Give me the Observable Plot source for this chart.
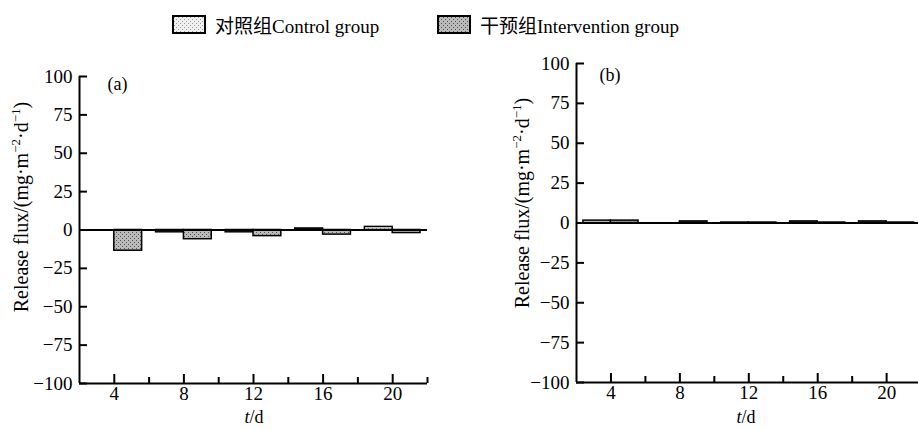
<!DOCTYPE html>
<html><head><meta charset="utf-8">
<script src="https://cdn.jsdelivr.net/npm/d3@7"></script>
<script src="https://cdn.jsdelivr.net/npm/@observablehq/plot@0.6"></script>
<style>
body{margin:0;background:#fff;}
#wrap{position:relative;width:918px;height:429px;overflow:hidden;font-family:"Liberation Serif","Noto Sans CJK SC",serif;color:#000;background:#fff;}
.panel{position:absolute;top:0;}
.leg{position:absolute;top:14px;height:20px;display:flex;align-items:center;font-size:19px;white-space:nowrap;}
.leg svg{margin-right:9px;}
.ytitle{position:absolute;font-size:20px;white-space:nowrap;transform:translate(-50%,-50%) rotate(-90deg);}
.ytitle sup{font-size:13px;vertical-align:8px;line-height:0;}
.xtitle{position:absolute;font-size:18px;white-space:nowrap;transform:translate(-50%,-50%);}
</style></head>
<body>
<svg width="0" height="0" style="position:absolute">
  <defs>
    <pattern id="pc" width="4" height="4" patternUnits="userSpaceOnUse">
      <rect width="4" height="4" fill="#f0f0f0"/>
      <rect x="0" y="0" width="1" height="1" fill="#9a9a9a"/>
      <rect x="2" y="2" width="1" height="1" fill="#9a9a9a"/>
    </pattern>
    <pattern id="pi" width="4" height="4" patternUnits="userSpaceOnUse">
      <rect width="4" height="4" fill="#bababa"/>
      <rect x="0" y="0" width="1" height="1" fill="#555"/>
      <rect x="2" y="2" width="1" height="1" fill="#555"/>
    </pattern>
  </defs>
</svg>
<div id="wrap"></div>
<script>
// ---- data ----
const days = [4, 8, 12, 16, 20];
const minorDays = [6, 10, 14, 18, 22];
const yTicks = [-100, -75, -50, -25, 0, 25, 50, 75, 100];
const groups = ["对照组Control group", "干预组Intervention group"];
const controlA = [0, -1.5, -1.5, 1, 2];
const interventionA = [-13.5, -6, -4, -3, -2];
const controlB = [1.5, 0, 0.3, 1, 1];
const interventionB = [1.5, 1, 0.3, 0.3, 0.3];
const panelLabels = ["(a)", "(b)"];
const yTitleParts = ["Release flux/(mg·m", "−2", "·d", "−1", ")"];
const xTitle = ["t", "/d"];

const wrap = document.getElementById("wrap");
const FONT = '"Liberation Serif","Noto Sans CJK SC",serif';
const fills = ["url(#pc)", "url(#pi)"];
const TICK = "#000";

function panel(cfg) {
  const ctrl = days.map((d, i) => ({day: d, v: cfg.ctrl[i]}));
  const intv = days.map((d, i) => ({day: d, v: cfg.intv[i]}));
  const bw = 1.6;
  const p = Plot.plot({
    width: cfg.width, height: 429,
    marginLeft: cfg.mL, marginRight: cfg.mR, marginTop: cfg.mT, marginBottom: cfg.mB,
    style: {fontFamily: FONT, fontSize: "19px", color: "#000", background: "transparent"},
    x: {domain: [2, cfg.xMax], axis: null},
    y: {domain: [-100, 100], axis: null},
    marks: [
      Plot.rectY(ctrl, {x1: d => d.day - bw, x2: d => d.day, y1: 0, y2: "v", fill: fills[0], stroke: "#000", strokeWidth: 1.5}),
      Plot.rectY(intv, {x1: d => d.day, x2: d => d.day + bw, y1: 0, y2: "v", fill: fills[1], stroke: "#000", strokeWidth: 1.5}),
      Plot.ruleY([0], {stroke: "#000", strokeWidth: 2}),
      Plot.ruleX([2], {stroke: "#000", strokeWidth: 2}),
      Plot.ruleY([-100], {stroke: "#000", strokeWidth: 2}),
      // inward ticks: axis tick marks shifted into the frame
      Plot.axisY(yTicks, {anchor: "left", tickSize: 8, dx: 8, stroke: TICK, strokeWidth: 2, label: null, text: null}),
      Plot.axisX(days, {anchor: "bottom", tickSize: 9, dy: -9, stroke: TICK, strokeWidth: 2, label: null, text: null}),
      Plot.axisX(minorDays.filter(d => d <= cfg.xMax), {anchor: "bottom", tickSize: 6, dy: -6, stroke: TICK, strokeWidth: 2, label: null, text: null}),
      // tick labels
      Plot.axisY(yTicks, {anchor: "left", tickSize: 0, tickPadding: 7, label: null, fontSize: 19, fontFamily: FONT}),
      Plot.axisX(days, {anchor: "bottom", tickSize: 0, tickPadding: 3, label: null, fontSize: 19, fontFamily: FONT}),
      Plot.text([cfg.label], {frameAnchor: "top-left", dx: cfg.ldx, dy: cfg.ldy, textAnchor: "start", fontSize: 18, fontFamily: FONT})
    ]
  });
  p.classList.add("panel");
  p.style.left = cfg.left + "px";
  wrap.appendChild(p);

  const yt = document.createElement("div");
  yt.className = "ytitle";
  yt.style.left = cfg.ytx + "px";
  yt.style.top = cfg.yty + "px";
  yt.innerHTML = `${yTitleParts[0]}<sup>${yTitleParts[1]}</sup>${yTitleParts[2]}<sup>${yTitleParts[3]}</sup>${yTitleParts[4]}`;
  wrap.appendChild(yt);

  const xt = document.createElement("div");
  xt.className = "xtitle";
  xt.style.left = cfg.xtx + "px";
  xt.style.top = "417px";
  xt.innerHTML = `<i>${xTitle[0]}</i>${xTitle[1]}`;
  wrap.appendChild(xt);
}

panel({ctrl: controlA, intv: interventionA, label: panelLabels[0], width: 440, left: 0,
  mL: 79, mR: 13, mT: 76, mB: 46, xMax: 22, ldx: 28, ldy: 1, ytx: 21, yty: 207, xtx: 254});
panel({ctrl: controlB, intv: interventionB, label: panelLabels[1], width: 458, left: 460,
  mL: 116, mR: 0, mT: 63, mB: 47, xMax: 21.85, ldx: 23, ldy: 5, ytx: 522, yty: 203, xtx: 746});

// legend
const legPos = [172, 437];
groups.forEach((g, i) => {
  const d = document.createElement("div");
  d.className = "leg";
  d.style.left = legPos[i] + "px";
  d.innerHTML = `<svg width="34" height="19"><rect x="1" y="1" width="32" height="17" fill="${fills[i]}" stroke="#000" stroke-width="2"/></svg><span>${g}</span>`;
  wrap.appendChild(d);
});
</script>
</body></html>
